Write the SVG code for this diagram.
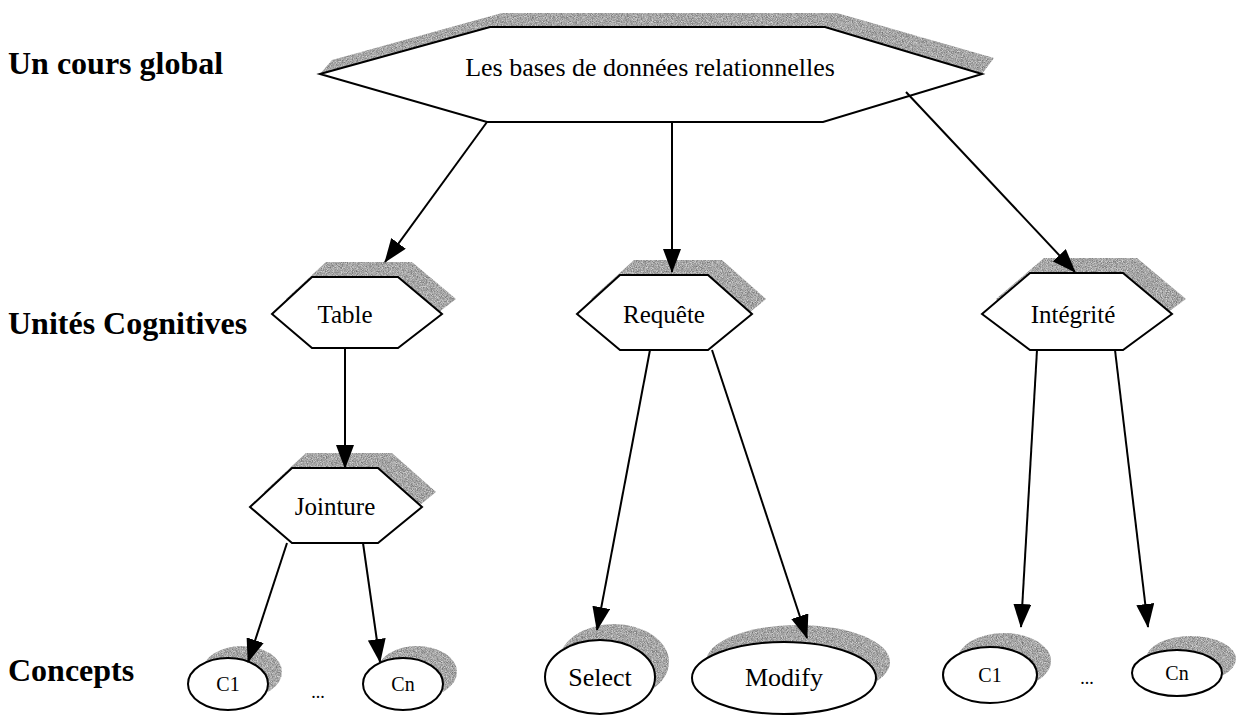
<svg xmlns="http://www.w3.org/2000/svg" width="1245" height="715" viewBox="0 0 1245 715">
  <defs>
    <style>
      .shade { fill: #a6a6a6; stroke: none; filter: url(#grain); }
      .box { fill: #ffffff; stroke: #000000; stroke-width: 2; }
      .lbl { font-family: "Liberation Serif", "Times New Roman", serif; fill: #000; text-anchor: middle; }
      .lvl { font-family: "Liberation Serif", "Times New Roman", serif; font-weight: bold; font-size: 32px; fill: #000; }
      .edge { stroke: #000; stroke-width: 2; fill: none; }
    </style>
    <!-- stippled grey used for the drop shadows -->
    <filter id="grain" x="-5%" y="-5%" width="110%" height="110%" color-interpolation-filters="sRGB">
      <feTurbulence type="fractalNoise" baseFrequency="1.2" numOctaves="1" seed="4" result="noise"/>
      <feColorMatrix in="noise" type="matrix" values="0.7 0 0 0 0.3  0.7 0 0 0 0.3  0.7 0 0 0 0.3  0 0 0 0 1" result="tone"/>
      <feComposite in="tone" in2="SourceAlpha" operator="in"/>
    </filter>
    <marker id="arrow" markerWidth="24" markerHeight="18" refX="23" refY="9" orient="auto" markerUnits="userSpaceOnUse" viewBox="0 0 24 18">
      <path d="M0,0 L24,9 L0,18 Z" fill="#000"/>
    </marker>
  </defs>
  <rect width="1245" height="715" fill="#ffffff"/>

  <!-- level captions -->
  <text class="lvl" x="8" y="74">Un cours global</text>
  <text class="lvl" x="8" y="334">Unités Cognitives</text>
  <text class="lvl" x="8" y="681">Concepts</text>

  <!-- course node -->
  <g id="course">
    <polygon class="shade" points="332,60 502,13 837,13 994,58 982,74 825,27 490,27 320,74"/>
    <polygon class="box" points="320,74 490,27 825,27 982,74 823,122 487,122"/>
    <text class="lbl" x="650" y="76" font-size="26">Les bases de données relationnelles</text>
  </g>

  <!-- cognitive units -->
  <g id="table">
    <polygon class="shade" points="286,299 326,262 412,262 456,299 412,333 326,333"/>
    <polygon class="box" points="272,314 312,277 398,277 442,314 398,348 312,348"/>
    <text class="lbl" x="345" y="323" font-size="25">Table</text>
  </g>
  <g id="requete">
    <polygon class="shade" points="591,299 634,260 722,260 766,299 722,335 634,335"/>
    <polygon class="box" points="577,314 620,275 708,275 752,314 708,350 620,350"/>
    <text class="lbl" x="664" y="323" font-size="25">Requête</text>
  </g>
  <g id="integrite">
    <polygon class="shade" points="996,299 1044,258 1137,258 1186,299 1137,335 1044,335"/>
    <polygon class="box" points="982,314 1030,273 1123,273 1172,314 1123,350 1030,350"/>
    <text class="lbl" x="1073" y="323" font-size="25">Intégrité</text>
  </g>
  <g id="jointure">
    <polygon class="shade" points="264,492 306,453 392,453 436,492 392,528 306,528"/>
    <polygon class="box" points="250,507 292,468 378,468 422,507 378,543 292,543"/>
    <text class="lbl" x="335" y="515" font-size="25">Jointure</text>
  </g>

  <!-- concepts -->
  <g id="c1-table">
    <ellipse class="shade" cx="242" cy="672" rx="40" ry="26"/>
    <ellipse class="box" cx="228" cy="684" rx="40" ry="26"/>
    <text class="lbl" x="228" y="691" font-size="20">C1</text>
  </g>
  <text class="lbl" x="318" y="698" font-size="18">...</text>
  <g id="cn-table">
    <ellipse class="shade" cx="417" cy="672" rx="40" ry="26"/>
    <ellipse class="box" cx="403" cy="684" rx="40" ry="26"/>
    <text class="lbl" x="403" y="691" font-size="20">Cn</text>
  </g>
  <g id="select">
    <ellipse class="shade" cx="614" cy="662" rx="55" ry="38"/>
    <ellipse class="box" cx="600" cy="677" rx="55" ry="37"/>
    <text class="lbl" x="600" y="686" font-size="26">Select</text>
  </g>
  <g id="modify">
    <ellipse class="shade" cx="798" cy="662" rx="92" ry="37"/>
    <ellipse class="box" cx="784" cy="678" rx="92" ry="36"/>
    <text class="lbl" x="784" y="686" font-size="26">Modify</text>
  </g>
  <g id="c1-integrite">
    <ellipse class="shade" cx="1004" cy="661" rx="47" ry="28"/>
    <ellipse class="box" cx="990" cy="675" rx="47" ry="28"/>
    <text class="lbl" x="990" y="682" font-size="20">C1</text>
  </g>
  <text class="lbl" x="1087" y="684" font-size="18">...</text>
  <g id="cn-integrite">
    <ellipse class="shade" cx="1191" cy="659" rx="45" ry="23"/>
    <ellipse class="box" cx="1177" cy="673" rx="45" ry="23"/>
    <text class="lbl" x="1177" y="680" font-size="20">Cn</text>
  </g>

  <!-- connectors -->
  <g id="connectors" marker-end="url(#arrow)">
    <path class="edge" d="M487,122 L385,262"/>
    <path class="edge" d="M672,122 L672,272"/>
    <path class="edge" d="M906,92 L1075,272"/>
    <path class="edge" d="M345,348 L345,468"/>
    <path class="edge" d="M287,543 L248,662"/>
    <path class="edge" d="M363,543 L380,662"/>
    <path class="edge" d="M650,350 L597,630"/>
    <path class="edge" d="M712,350 L807,638"/>
    <path class="edge" d="M1037,350 L1021,627"/>
    <path class="edge" d="M1115,350 L1148,627"/>
  </g>
</svg>
